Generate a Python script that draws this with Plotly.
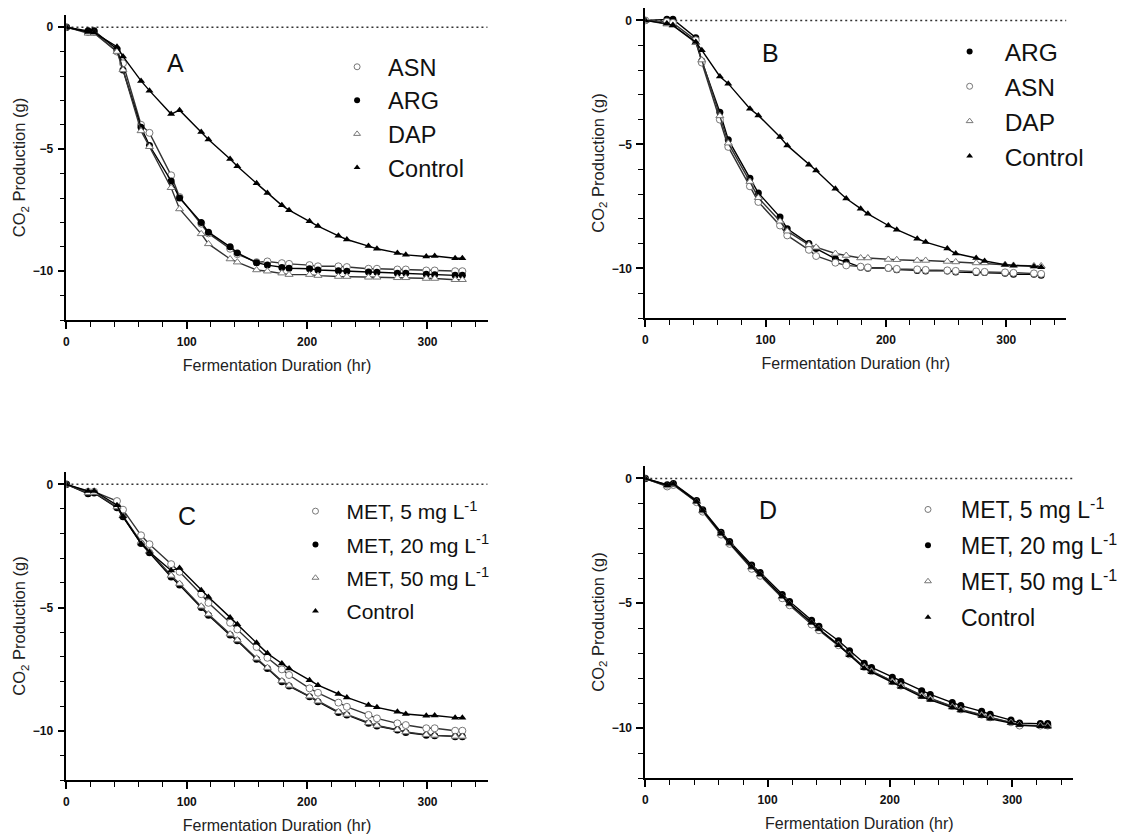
import plotly.graph_objects as go

# ---------------- data ----------------
T = [0, 18, 23, 42, 47, 62, 69, 87, 94, 112, 118, 136, 142, 158, 167, 179, 185,
     202, 209, 226, 233, 251, 258, 275, 282, 299, 306, 323, 329]

# Panel A
asnA = [0, -0.2, -0.2, -1.0, -1.48, -4.0, -4.33, -6.07, -6.96, -8.05, -8.45, -9.08, -9.3, -9.63,
        -9.6, -9.67, -9.7, -9.75, -9.8, -9.8, -9.83, -9.9, -9.9, -9.93, -9.93, -9.97, -9.97, -10.0, -10.0]
argA = [0, -0.15, -0.15, -0.9, -1.75, -4.1, -4.85, -6.3, -7.0, -8.0, -8.4, -9.0, -9.25, -9.65,
        -9.75, -9.85, -9.88, -9.9, -9.95, -9.98, -10.0, -10.03, -10.04, -10.08, -10.08, -10.13, -10.15, -10.17, -10.17]
dapA = [0, -0.25, -0.25, -1.0, -1.75, -4.25, -4.9, -6.58, -7.45, -8.47, -8.88, -9.5, -9.63, -9.95,
        -10.0, -10.08, -10.14, -10.14, -10.18, -10.22, -10.22, -10.25, -10.25, -10.27, -10.27, -10.3, -10.3, -10.35, -10.35]
ctrlA = [0, -0.2, -0.22, -0.8, -1.2, -2.2, -2.6, -3.56, -3.4, -4.3, -4.6, -5.4, -5.7, -6.4,
         -6.8, -7.3, -7.5, -7.95, -8.15, -8.55, -8.7, -8.97, -9.08, -9.25, -9.33, -9.4, -9.38, -9.47, -9.47]

# Panel B
argB = [0, 0.05, 0.05, -0.7, -1.64, -3.7, -4.81, -6.36, -6.96, -7.93, -8.4, -9.0, -9.2, -9.61,
        -9.74, -9.95, -9.99, -9.99, -10.05, -10.08, -10.1, -10.1, -10.15, -10.17, -10.17, -10.2, -10.24, -10.24, -10.28]
asnB = [0, -0.05, -0.1, -0.8, -1.7, -4.0, -5.1, -6.69, -7.32, -8.27, -8.67, -9.25, -9.5, -9.77,
        -9.88, -9.93, -9.96, -9.98, -10.02, -10.04, -10.06, -10.08, -10.1, -10.12, -10.14, -10.16, -10.18, -10.2, -10.22]
dapB = [0, -0.15, -0.2, -0.9, -1.6, -3.85, -4.95, -6.5, -7.15, -8.1, -8.5, -9.05, -9.15, -9.4,
        -9.48, -9.58, -9.58, -9.64, -9.65, -9.68, -9.68, -9.72, -9.74, -9.78, -9.78, -9.85, -9.88, -9.9, -9.9]
ctrlB = [0, -0.13, -0.2, -0.87, -1.2, -2.26, -2.55, -3.56, -3.83, -4.7, -5.04, -5.82, -6.05, -6.79,
         -7.18, -7.59, -7.8, -8.27, -8.44, -8.8, -8.94, -9.2, -9.4, -9.58, -9.7, -9.85, -9.88, -9.92, -9.95]

# Panel C
met5C = [0, -0.3, -0.3, -0.68, -1.03, -2.07, -2.43, -3.24, -3.55, -4.46, -4.81, -5.62, -5.89, -6.6,
         -7.04, -7.51, -7.74, -8.28, -8.46, -8.86, -9.03, -9.36, -9.5, -9.7, -9.77, -9.9, -9.9, -10.0, -10.0]
met20C = [0, -0.38, -0.35, -0.95, -1.32, -2.4, -2.78, -3.76, -4.09, -5.0, -5.31, -6.12, -6.35, -7.1,
          -7.47, -8.01, -8.19, -8.62, -8.82, -9.26, -9.36, -9.7, -9.81, -9.97, -10.07, -10.18, -10.2, -10.24, -10.24]
met50C = [0, -0.35, -0.33, -0.92, -1.28, -2.35, -2.72, -3.7, -4.03, -4.95, -5.27, -6.08, -6.32, -7.06,
          -7.44, -7.98, -8.16, -8.6, -8.8, -9.23, -9.34, -9.68, -9.79, -9.96, -10.05, -10.16, -10.19, -10.23, -10.23]
ctrlC = [0, -0.27, -0.27, -0.85, -1.3, -2.4, -2.75, -3.5, -3.4, -4.3, -4.57, -5.4, -5.68, -6.43,
         -6.86, -7.27, -7.47, -7.95, -8.15, -8.51, -8.65, -8.96, -9.05, -9.23, -9.32, -9.39, -9.38, -9.47, -9.47]

# Panel D
met5D = [0, -0.32, -0.26, -0.95, -1.33, -2.25, -2.62, -3.62, -3.9, -4.8, -5.08, -5.85, -6.08, -6.68,
         -7.05, -7.55, -7.72, -8.12, -8.3, -8.68, -8.8, -9.12, -9.25, -9.46, -9.57, -9.77, -9.9, -9.9, -9.9]
met20D = [0, -0.25, -0.2, -0.88, -1.25, -2.15, -2.52, -3.47, -3.77, -4.65, -4.93, -5.68, -5.92, -6.5,
          -6.9, -7.4, -7.57, -7.96, -8.13, -8.5, -8.65, -8.98, -9.1, -9.33, -9.45, -9.68, -9.8, -9.82, -9.82]
met50D = [0, -0.3, -0.24, -0.93, -1.3, -2.22, -2.6, -3.56, -3.86, -4.74, -5.03, -5.78, -6.03, -6.65,
          -7.05, -7.55, -7.72, -8.13, -8.3, -8.7, -8.82, -9.15, -9.27, -9.48, -9.58, -9.78, -9.87, -9.9, -9.92]
ctrlD = [0, -0.27, -0.22, -0.92, -1.28, -2.2, -2.58, -3.55, -3.84, -4.72, -5.02, -5.77, -6.03, -6.68,
         -7.08, -7.6, -7.76, -8.18, -8.35, -8.75, -8.87, -9.18, -9.3, -9.52, -9.63, -9.8, -9.88, -9.93, -9.95]

met_names = ["MET, 5 mg L<sup>-1</sup>", "MET, 20 mg L<sup>-1</sup>",
             "MET, 50 mg L<sup>-1</sup>", "Control"]

# ---------------- styling ----------------
W, H = 1123, 839
FONT = "Liberation Sans, Arial, sans-serif"
STY = {
    "ocirc": dict(symbol="circle", color="white", line=dict(color="#777", width=1)),
    "fcirc": dict(symbol="circle", color="black", line=dict(color="black", width=0)),
    "otri": dict(symbol="triangle-up", color="white", line=dict(color="#777", width=1)),
    "ftri": dict(symbol="triangle-up", color="black", line=dict(color="black", width=0)),
}
LINECOL = {"ocirc": "#333", "fcirc": "black", "otri": "#333", "ftri": "black"}

# panel geometry in pixels: (x_left, x_right, y_top, y_bottom)
PANELS = [
    dict(px=(64, 489), py=(15, 320), letter="A", lpos=(91, -1.45),
         series=[("ASN", asnA, "ocirc"), ("ARG", argA, "fcirc"), ("DAP", dapA, "otri"), ("Control", ctrlA, "ftri")],
         leg=(326, 45), lfont=23.5, gap=None, iw=52),
    dict(px=(648, 1073), py=(8, 318), letter="B", lpos=(104, -1.33),
         series=[("ARG", argB, "fcirc"), ("ASN", asnB, "ocirc"), ("DAP", dapB, "otri"), ("Control", ctrlB, "ftri")],
         leg=(940, 29), lfont=24.5, gap=None, iw=60),
    dict(px=(64, 489), py=(472, 780), letter="C", lpos=(100, -1.3),
         series=[(met_names[0], met5C, "ocirc"), (met_names[1], met20C, "fcirc"),
                 (met_names[2], met50C, "otri"), (met_names[3], ctrlC, "ftri")],
         leg=(284, 491), lfont=21, gap=3, iw=52),
    dict(px=(648, 1080), py=(466, 778), letter="D", lpos=(100, -1.28),
         series=[(met_names[0], met5D, "ocirc"), (met_names[1], met20D, "fcirc"),
                 (met_names[2], met50D, "otri"), (met_names[3], ctrlD, "ftri")],
         leg=(900, 488), lfont=23, gap=3, iw=56),
]

fig = go.Figure()
layout = dict(width=W, height=H, margin=dict(l=0, r=0, t=0, b=0),
              paper_bgcolor="white", plot_bgcolor="white", showlegend=True,
              font=dict(family=FONT, color="#222"), shapes=[], annotations=[])

for i, p in enumerate(PANELS):
    n = "" if i == 0 else str(i + 1)
    xa, ya = "x" + n, "y" + n
    legname = "legend" + n
    for name, vals, st in p["series"]:
        fig.add_trace(go.Scatter(
            x=T, y=vals, mode="lines+markers", xaxis=xa, yaxis=ya,
            line=dict(color=LINECOL[st], width=1.4),
            marker=dict(size=7, **STY[st]), showlegend=False, hoverinfo="skip"))
    for name, vals, st in p["series"]:
        kw = {}
        if p["gap"] is not None:
            kw["legendgroup"] = name + n
        fig.add_trace(go.Scatter(
            x=[None], y=[None], mode="markers", xaxis=xa, yaxis=ya, name=name,
            marker=dict(size=6, **STY[st]), legend=legname, **kw))
    x0, x1 = p["px"]
    y0, y1 = p["py"]
    layout["xaxis" + n] = dict(
        domain=[x0 / W, x1 / W], anchor=ya, range=[0, 350], showline=True,
        linecolor="black", linewidth=1.6, ticks="outside", ticklen=7, tickwidth=1.5,
        tickcolor="black", tickvals=[0, 100, 200, 300], showgrid=False, zeroline=False,
        ticklabelstandoff=3,
        minor=dict(dtick=20, tick0=0, ticks="outside", ticklen=5, tickwidth=1.3,
                   tickcolor="black", showgrid=False),
        tickfont=dict(family=FONT, size=12, weight="bold", color="#111"),
        title=dict(text="Fermentation Duration (hr)", standoff=12,
                   font=dict(family=FONT, size=16, color="#222")))
    layout["yaxis" + n] = dict(
        domain=[1 - y1 / H, 1 - y0 / H], anchor=xa, range=[-12, 0.5], showline=True,
        linecolor="black", linewidth=1.6, ticks="outside", ticklen=7, tickwidth=1.5,
        tickcolor="black", tickvals=[0, -5, -10], showgrid=False, zeroline=False,
        ticklabelstandoff=2,
        minor=dict(dtick=1, tick0=0, ticks="outside", ticklen=5, tickwidth=1.3,
                   tickcolor="black", showgrid=False),
        tickfont=dict(family=FONT, size=12, weight="bold", color="#111"),
        title=dict(text="CO<sub>2</sub> Production (g)", standoff=3,
                   font=dict(family=FONT, size=16.5, color="#222")))
    layout["shapes"].append(dict(type="line", xref=xa, yref=ya, x0=0, x1=350, y0=0, y1=0,
                                 line=dict(color="#333", width=1.5, dash="2px,3px"), layer="below"))
    lx, ly = p["lpos"]
    layout["annotations"].append(dict(text=p["letter"], x=lx, y=ly, xref=xa, yref=ya,
                                      showarrow=False, font=dict(family=FONT, size=25, color="#111")))
    gx, gy = p["leg"]
    leg = dict(x=gx / W, y=1 - gy / H, xanchor="left", yanchor="top",
               bgcolor="rgba(0,0,0,0)", borderwidth=0, itemwidth=p["iw"],
               font=dict(family=FONT, size=p["lfont"], color="#111"))
    if p["gap"] is not None:
        leg["tracegroupgap"] = p["gap"]
    layout[legname] = leg

fig.update_layout(**layout)
fig.write_html("out.html")
